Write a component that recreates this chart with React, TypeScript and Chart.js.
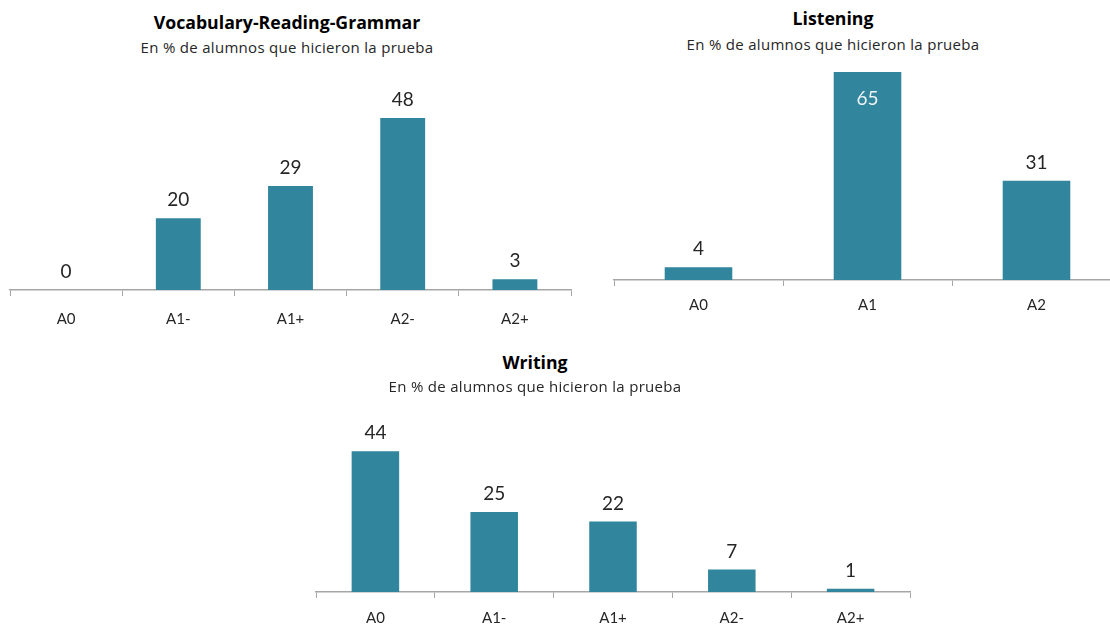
import React, { useEffect, useRef } from "react";
import { Chart, registerables } from "chart.js";

Chart.register(...registerables);

const vrgCategories = ["A0", "A1-", "A1+", "A2-", "A2+"];
const vrgValues = [0, 20, 29, 48, 3];

const listeningCategories = ["A0", "A1", "A2"];
const listeningValues = [4, 65, 31];

const writingCategories = ["A0", "A1-", "A1+", "A2-", "A2+"];
const writingValues = [44, 25, 22, 7, 1];

const SUBTITLE = "En % de alumnos que hicieron la prueba";
const FONT = "Lato, 'Open Sans', sans-serif";
const TITLE_FONT = "'Open Sans', Lato, sans-serif";
const BAR_COLOR = "#31859c";
const AXIS_COLOR = "#a6a6a6";
const TEXT_COLOR = "#262626";

type PanelProps = {
  labels: string[];
  values: number[];
  left: number;
  top: number;
  width: number;
  height: number;
  padLeft: number;
  padRight: number;
  padTop: number;
  yMax: number;
  tickPadding: number;
  insideIndex?: number;
};

const valueLabels = {
  id: "valueLabels",
  afterDatasetsDraw(chart: any, _args: any, opts: any) {
    const ctx = chart.ctx;
    const meta = chart.getDatasetMeta(0);
    const values = chart.data.datasets[0].data as number[];
    ctx.save();
    ctx.font = `19px ${FONT}`;
    ctx.textAlign = "center";
    ctx.textBaseline = "middle";
    meta.data.forEach((bar: any, i: number) => {
      const inside = opts && opts.insideIndex === i;
      ctx.fillStyle = inside ? "#eef3f5" : TEXT_COLOR;
      const y = inside ? bar.y + 27 : bar.y - 18;
      ctx.fillText(String(values[i]), bar.x, y);
    });
    ctx.restore();
  },
};

function BarPanel(p: PanelProps) {
  const ref = useRef<HTMLCanvasElement | null>(null);
  useEffect(() => {
    if (!ref.current) return;
    const chart = new Chart(ref.current, {
      type: "bar",
      data: {
        labels: p.labels,
        datasets: [
          {
            data: p.values,
            backgroundColor: BAR_COLOR,
            borderWidth: 0,
            barPercentage: 0.4,
            categoryPercentage: 1,
          },
        ],
      },
      options: {
        responsive: false,
        animation: false,
        devicePixelRatio: 1,
        layout: {
          padding: { left: p.padLeft, right: p.padRight, top: p.padTop, bottom: 0 },
        },
        plugins: {
          legend: { display: false },
          title: { display: false },
          tooltip: { enabled: false },
          valueLabels: { insideIndex: p.insideIndex ?? -1 },
        } as any,
        scales: {
          x: {
            offset: true,
            grid: {
              display: true,
              offset: true,
              drawOnChartArea: false,
              drawTicks: true,
              tickLength: 6,
              color: AXIS_COLOR,
              lineWidth: 1,
            },
            border: { display: true, color: AXIS_COLOR, width: 1.5 },
            ticks: {
              color: TEXT_COLOR,
              font: { family: FONT, size: 15 },
              padding: p.tickPadding,
              maxRotation: 0,
            },
          },
          y: {
            display: false,
            min: 0,
            max: p.yMax,
          },
        },
      },
      plugins: [valueLabels],
    });
    return () => chart.destroy();
  }, []);
  return (
    <canvas
      ref={ref}
      width={p.width}
      height={p.height}
      style={{
        position: "absolute",
        left: p.left,
        top: p.top,
        width: p.width,
        height: p.height,
      }}
    />
  );
}

function Titles(props: { title: string; cx: number; titleY: number; subY: number }) {
  const w = 500;
  return (
    <>
      <div
        style={{
          position: "absolute",
          left: props.cx - w / 2,
          width: w,
          top: props.titleY - 12,
          height: 24,
          lineHeight: "24px",
          textAlign: "center",
          fontFamily: TITLE_FONT,
          fontWeight: 700,
          fontSize: 17.7,
          color: "#000",
          whiteSpace: "nowrap",
        }}
      >
        {props.title}
      </div>
      <div
        style={{
          position: "absolute",
          left: props.cx - w / 2,
          width: w,
          top: props.subY - 10,
          height: 20,
          lineHeight: "20px",
          textAlign: "center",
          fontFamily: TITLE_FONT,
          fontSize: 15,
          letterSpacing: 0.3,
          color: TEXT_COLOR,
          whiteSpace: "nowrap",
        }}
      >
        {SUBTITLE}
      </div>
    </>
  );
}

export default function App() {
  return (
    <div
      style={{
        position: "fixed",
        left: 0,
        top: 0,
        width: 1110,
        height: 625,
        overflow: "hidden",
        background: "#fff",
      }}
    >
      <Titles title="Vocabulary-Reading-Grammar" cx={287} titleY={22} subY={47} />
      <BarPanel
        labels={vrgCategories}
        values={vrgValues}
        left={0}
        top={0}
        width={581}
        height={342}
        padLeft={10}
        padRight={10}
        padTop={75}
        yMax={60}
        tickPadding={14}
      />
      <Titles title="Listening" cx={833} titleY={18} subY={44} />
      <BarPanel
        labels={listeningCategories}
        values={listeningValues}
        left={604}
        top={0}
        width={517}
        height={324}
        padLeft={10}
        padRight={0}
        padTop={56}
        yMax={70}
        tickPadding={10}
        insideIndex={1}
      />
      <Titles title="Writing" cx={535} titleY={362} subY={386} />
      <BarPanel
        labels={writingCategories}
        values={writingValues}
        left={306}
        top={340}
        width={614}
        height={298}
        padLeft={10}
        padRight={10}
        padTop={60}
        yMax={60}
        tickPadding={11}
      />
    </div>
  );
}
